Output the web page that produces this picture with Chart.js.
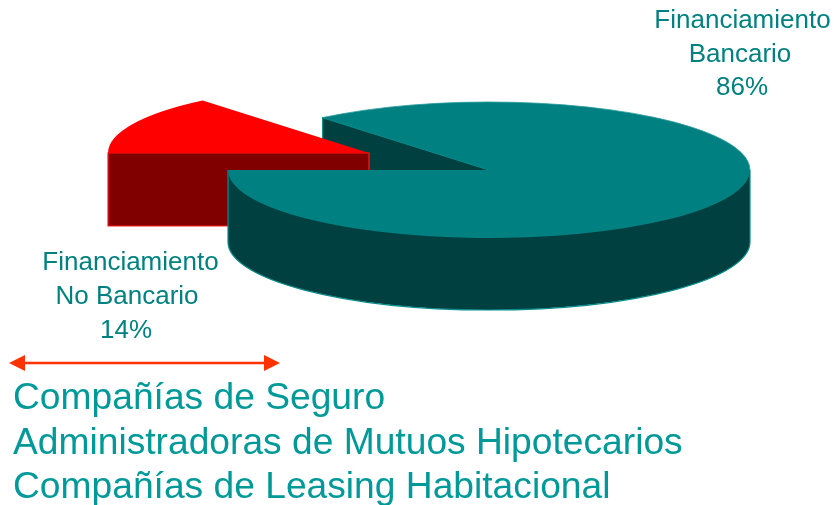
<!DOCTYPE html>
<html>
<head>
<meta charset="utf-8">
<style>html,body{margin:0;padding:0;background:#fff;overflow:hidden}canvas{display:block}</style>
<script src="https://cdn.jsdelivr.net/npm/chart.js@4"></script>
</head>
<body>
<canvas id="c" width="834" height="505"></canvas>
<script>
const categories = ['Financiamiento No Bancario', 'Financiamiento Bancario'];
const shares = [14, 86];
const labelNoBancario = ['Financiamiento', 'No Bancario', '14%'];
const labelBancario = ['Financiamiento', 'Bancario', '86%'];
const instituciones = ['Compañías de Seguro', 'Administradoras de Mutuos Hipotecarios', 'Compañías de Leasing Habitacional'];

const FONT = '"Liberation Sans", Arial, sans-serif';
const RADIUS = 261, SQUASH = 68 / 261, DEPTH = 72;
const CENTER = {x: 489, y: 170};      // teal slice centre on the page
const RED_CENTER = {x: 369, y: 153};  // exploded slice centre on the page

function paintTop(ctx, el, at) {
  ctx.save();
  ctx.translate(at.x, at.y);
  ctx.scale(1, SQUASH);
  ctx.translate(-el.x, -el.y);
  el.draw(ctx);
  ctx.restore();
}
function rim(el, at, a) {
  return {x: at.x + el.outerRadius * Math.cos(a), y: at.y + el.outerRadius * SQUASH * Math.sin(a)};
}
function polygon(ctx, pts, fill, stroke) {
  ctx.beginPath();
  pts.forEach((p, i) => i ? ctx.lineTo(p.x, p.y) : ctx.moveTo(p.x, p.y));
  ctx.closePath();
  ctx.fillStyle = fill; ctx.fill();
  ctx.strokeStyle = stroke; ctx.lineWidth = 1.2; ctx.stroke();
}
function textBlock(ctx, lines, xs, y0, step, size, color, align) {
  ctx.font = size + 'px ' + FONT;
  ctx.fillStyle = color;
  ctx.textAlign = align;
  ctx.textBaseline = 'alphabetic';
  lines.forEach((t, i) => ctx.fillText(t, xs[i], y0 + i * step));
}

const pie3d = {
  id: 'pie3d',
  beforeDatasetDraw(chart) {
    const ctx = chart.ctx;
    const [red, teal] = chart.getDatasetMeta(0).data;
    const R = teal.outerRadius, ry = R * SQUASH;

    // cut face of the teal slice, behind the red slice
    const cut = rim(teal, CENTER, teal.startAngle);
    polygon(ctx, [cut, CENTER, {x: CENTER.x, y: CENTER.y + DEPTH}, {x: cut.x, y: cut.y + DEPTH}], '#004040', '#0a8c8c');

    // red slice: front face, then top
    const redL = rim(red, RED_CENTER, red.startAngle);
    polygon(ctx, [redL, RED_CENTER, {x: RED_CENTER.x, y: RED_CENTER.y + DEPTH + 1}, {x: redL.x, y: redL.y + DEPTH + 1}], '#800000', '#ff1a1a');
    paintTop(ctx, red, RED_CENTER);

    // teal slice: outer wall (open along the top), then top
    ctx.beginPath();
    ctx.moveTo(CENTER.x - R, CENTER.y);
    ctx.lineTo(CENTER.x - R, CENTER.y + DEPTH);
    ctx.ellipse(CENTER.x, CENTER.y + DEPTH, R, ry, 0, Math.PI, 0, true);
    ctx.lineTo(CENTER.x + R, CENTER.y);
    ctx.fillStyle = '#004040'; ctx.fill();
    ctx.strokeStyle = '#0a8c8c'; ctx.lineWidth = 1.2; ctx.stroke();
    paintTop(ctx, teal, CENTER);

    // light rim along the back of the teal top
    ctx.beginPath();
    ctx.ellipse(CENTER.x, CENTER.y, R, ry, 0, teal.startAngle, Math.PI * 2);
    ctx.strokeStyle = '#2a9c9c'; ctx.lineWidth = 0.8; ctx.stroke();
    return false;
  },
  afterDraw(chart) {
    const ctx = chart.ctx;
    textBlock(ctx, labelBancario, [742.5, 740, 742], 28, 33.7, 26, '#008080', 'center');
    textBlock(ctx, labelNoBancario, [130.5, 127, 126], 270, 34, 26, '#008080', 'center');
    textBlock(ctx, instituciones, [13, 13, 13], 409, 44.5, 37.2, '#009999', 'left');

    // double arrow
    const y = 363, x0 = 9, x1 = 280, head = 16, half = 8;
    ctx.strokeStyle = ctx.fillStyle = '#ff3300';
    ctx.lineWidth = 2.4;
    ctx.beginPath(); ctx.moveTo(x0 + head, y); ctx.lineTo(x1 - head, y); ctx.stroke();
    ctx.beginPath(); ctx.moveTo(x0, y); ctx.lineTo(x0 + head, y - half); ctx.lineTo(x0 + head, y + half); ctx.closePath(); ctx.fill();
    ctx.beginPath(); ctx.moveTo(x1, y); ctx.lineTo(x1 - head, y - half); ctx.lineTo(x1 - head, y + half); ctx.closePath(); ctx.fill();
  }
};

new Chart(document.getElementById('c'), {
  type: 'pie',
  data: {
    labels: categories,
    datasets: [{
      data: shares,
      backgroundColor: ['#ff0000', '#008080'],
      borderWidth: 0,
      radius: RADIUS
    }]
  },
  options: {
    responsive: false,
    animation: false,
    rotation: 270,
    layout: {padding: 0},
    plugins: {legend: {display: false}, tooltip: {enabled: false}}
  },
  plugins: [pie3d]
});
</script>
</body>
</html>
